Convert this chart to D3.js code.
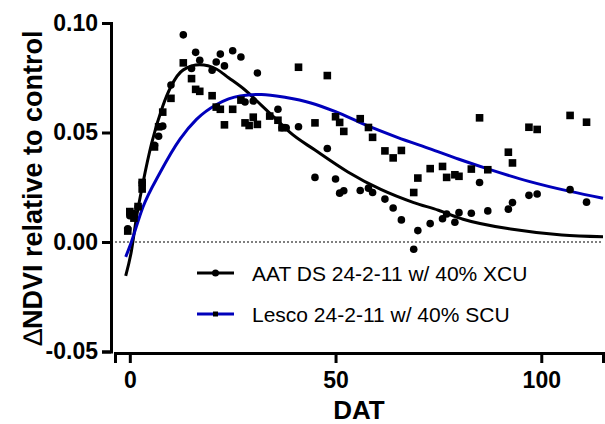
<!DOCTYPE html>
<html>
<head>
<meta charset="utf-8">
<script src="https://cdn.jsdelivr.net/npm/d3@7"></script>
<style>
  body { margin: 0; background: #fff; }
  text { font-family: Arial, "Liberation Sans", sans-serif; }
</style>
</head>
<body>
<script>
// AAT DS 24-2-11 w/ 40% XCU (circles)
const aatDays = [-0.5, 0, 1, 2, 3, 6, 7, 8, 10, 13, 15, 16, 17, 20, 21, 22, 23, 25, 27, 28, 30, 31,
  36, 37, 38, 41, 45, 48, 50, 51, 52, 56, 58, 59, 62, 64, 66, 69, 70, 73, 76, 77,
  79, 80, 83, 85, 87, 92, 93, 97, 99, 107, 111];
const aatValues = [0.006, 0.012, 0.013, 0.016, 0.027, 0.0442, 0.0483, 0.0529, 0.0717, 0.0946, 0.0792, 0.0866, 0.083,
  0.0784, 0.0822, 0.0858, 0.0804, 0.0873, 0.0845, 0.0639, 0.0644, 0.0772, 0.0606, 0.0522, 0.0522, 0.0526, 0.0295,
  0.0427, 0.0288, 0.0223, 0.0234, 0.0235, 0.0246, 0.0226, 0.0196, 0.0155, 0.0101, -0.0033, 0.0052, 0.0084, 0.0106,
  0.0128, 0.009, 0.0134, 0.0131, 0.0272, 0.0142, 0.015, 0.018, 0.0213, 0.0219, 0.0239, 0.0182];

// Lesco 24-2-11 w/ 40% SCU (squares)
const lescoDays = [-0.5, 0, 1, 2, 3, 3, 6, 7, 8, 10, 13, 15, 16, 17, 20, 21, 22, 23,
  25, 27, 28, 29, 30, 31, 34, 36, 37, 41, 45, 48, 50, 51, 52, 56, 58, 59, 62,
  64, 66, 69, 70, 73, 76, 77, 79, 80, 83, 85, 87, 92, 93, 97, 99, 107, 111];
const lescoValues = [0.005, 0.0139, 0.0109, 0.0162, 0.0242, 0.0272, 0.0434, 0.0526, 0.0593, 0.0656, 0.0818, 0.0746,
  0.0697, 0.0688, 0.0668, 0.0616, 0.0606, 0.0535, 0.0606, 0.0648, 0.0544, 0.0532, 0.057, 0.0537, 0.0575, 0.0556,
  0.0522, 0.0798, 0.0544, 0.076, 0.0572, 0.0546, 0.0505, 0.0563, 0.0523, 0.0478, 0.0416, 0.0384, 0.0418, 0.0226,
  0.0292, 0.0335, 0.0345, 0.0295, 0.0307, 0.03, 0.0333, 0.0567, 0.033, 0.041, 0.0361, 0.0524, 0.0514, 0.0578, 0.0547];

// fitted curves
const aatFitDays = [-1, 0.4, 1.6, 3.2, 5.3, 8, 10, 13, 17, 21, 24, 28, 32, 36.5, 39, 45, 53, 61, 69, 75, 81, 93, 105, 115];
const aatFitValues = [-0.0155, -0.004, 0.011, 0.027, 0.045, 0.062, 0.071, 0.0786, 0.0809, 0.079, 0.075, 0.0694, 0.0624,
  0.0544, 0.0499, 0.042, 0.032, 0.024, 0.018, 0.0145, 0.0104, 0.0058, 0.0032, 0.0024];
const lescoFitDays = [-1, 0, 3.2, 7.3, 12.2, 16.2, 21.1, 26.8, 32, 38, 44, 50, 57, 65, 73, 80, 87, 97, 107, 115];
const lescoFitValues = [-0.0068, -0.002, 0.016, 0.0315, 0.047, 0.056, 0.0628, 0.0667, 0.0674, 0.066, 0.0635, 0.0595,
  0.0537, 0.0478, 0.0425, 0.0378, 0.0334, 0.0277, 0.0231, 0.02];

const xTicks = [0, 50, 100];
const yTicks = [-0.05, 0.00, 0.05, 0.10];
const legendLabels = ["AAT DS 24-2-11 w/ 40% XCU", "Lesco 24-2-11 w/ 40% SCU"];

const width = 605, height = 424;
const blue = "#0000bb";

const svg = d3.select("body").append("svg")
  .attr("width", width)
  .attr("height", height);

const x = d3.scaleLinear().domain([-3.6, 115]).range([115, 603]);
const y = d3.scaleLinear().domain([-0.05, 0.10]).range([351.5, 23]);

// zero reference line
svg.append("line")
  .attr("x1", 111).attr("x2", 603)
  .attr("y1", y(0)).attr("y2", y(0))
  .attr("stroke", "#000").attr("stroke-width", 1.2)
  .attr("stroke-dasharray", "2,2");

// axes
const yAxis = svg.append("g")
  .attr("transform", "translate(111,0)")
  .call(d3.axisLeft(y).tickValues(yTicks).tickFormat(d => d.toFixed(2)).tickSizeOuter(0).tickSize(9).tickPadding(4));
const xAxis = svg.append("g")
  .attr("transform", "translate(0,353)")
  .call(d3.axisBottom(x).tickValues(xTicks).tickFormat(d3.format("d")).tickSizeOuter(0).tickSize(10).tickPadding(9));

[xAxis, yAxis].forEach(function(g) {
  g.select(".domain").attr("stroke-width", 3);
  g.selectAll(".tick line").attr("stroke-width", 3);
  g.selectAll(".tick text")
    .attr("font-size", 23)
    .attr("font-weight", "bold")
    .attr("fill", "#000")
    .style("font-family", "Arial, 'Liberation Sans', sans-serif");
});

// axis titles
svg.append("text")
  .attr("x", (x.range()[0] + x.range()[1]) / 2).attr("y", 419)
  .attr("text-anchor", "middle")
  .attr("font-size", 26).attr("font-weight", "bold")
  .text("DAT");

const yt = svg.append("text")
  .attr("transform", "translate(42," + 188 + ") rotate(-90)")
  .attr("text-anchor", "middle")
  .attr("font-size", 27).attr("font-weight", "bold");
yt.append("tspan").attr("font-weight", "normal").text("\u2206");
yt.append("tspan").text("NDVI relative to control");

// fitted curves
const line = d3.line()
  .x(d => x(d[0]))
  .y(d => y(d[1]))
  .curve(d3.curveMonotoneX);

svg.append("path")
  .datum(aatFitDays.map((d, i) => [d, aatFitValues[i]]))
  .attr("d", line)
  .attr("fill", "none").attr("stroke", "#000").attr("stroke-width", 3);

svg.append("path")
  .datum(lescoFitDays.map((d, i) => [d, lescoFitValues[i]]))
  .attr("d", line)
  .attr("fill", "none").attr("stroke", blue).attr("stroke-width", 3);

// points
svg.append("g").selectAll("rect")
  .data(lescoDays.map((d, i) => [d, lescoValues[i]]))
  .enter().append("rect")
  .attr("x", d => x(d[0]) - 3.8)
  .attr("y", d => y(d[1]) - 3.8)
  .attr("width", 7.6).attr("height", 7.6)
  .attr("fill", "#000");

svg.append("g").selectAll("circle")
  .data(aatDays.map((d, i) => [d, aatValues[i]]))
  .enter().append("circle")
  .attr("cx", d => x(d[0]))
  .attr("cy", d => y(d[1]))
  .attr("r", 3.8)
  .attr("fill", "#000");

// legend
const legend = svg.append("g").attr("transform", "translate(197,273)");
const items = legend.selectAll("g").data(legendLabels).enter().append("g")
  .attr("transform", (d, i) => "translate(0," + i * 41 + ")");
items.append("line")
  .attr("x1", 0).attr("x2", 37)
  .attr("stroke", (d, i) => i === 0 ? "#000" : blue)
  .attr("stroke-width", 3);
items.filter((d, i) => i === 0).append("circle")
  .attr("cx", 18.5).attr("r", 3.5).attr("fill", "#000");
items.filter((d, i) => i === 1).append("rect")
  .attr("x", 16).attr("y", -2.5).attr("width", 5).attr("height", 5).attr("fill", "#000");
items.append("text")
  .attr("x", 55).attr("y", 7.5)
  .attr("font-size", 21)
  .text(d => d);
</script>
</body>
</html>
